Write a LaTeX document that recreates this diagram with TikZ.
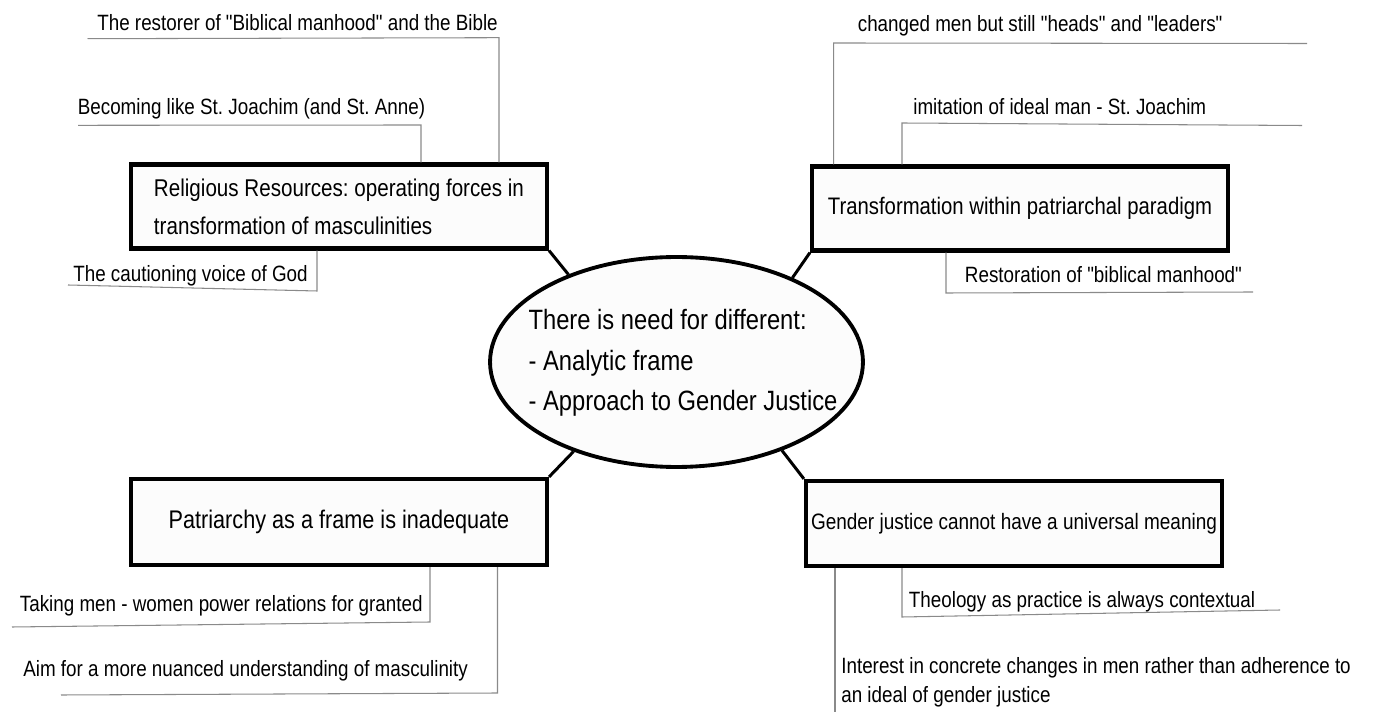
\documentclass[tikz,border=0pt]{standalone}
\usepackage{fontspec}
\setmainfont{Liberation Sans}[FakeStretch=0.85, Ligatures=TeXOff]
\usepackage{tikz}
\usetikzlibrary{positioning, shapes.geometric}
\definecolor{boxfill}{HTML}{FCFCFC}
\definecolor{leadgray}{HTML}{8A8A8A}
\tikzstyle{link} = [line width=1.7pt]
\tikzstyle{leader} = [draw=leadgray, line width=0.6pt]
\tikzstyle{topic} = [rectangle, draw=black, line width=2.4pt, fill=boxfill, minimum width=8.32cm, minimum height=1.68cm, inner sep=0pt, align=left]
\tikzstyle{hub} = [ellipse, draw=black, line width=2.2pt, fill=boxfill, minimum width=7.46cm, minimum height=4.2cm, inner sep=0pt]
\tikzstyle{note} = [inner sep=0pt, anchor=base west, align=left, font=\fontsize{12.6}{17}\selectfont]
\frenchspacing

\begin{document}
\frenchspacing
\begin{tikzpicture}[x=0.02cm, y=-0.02cm]
        \useasboundingbox (0,0) rectangle (1373,712);

        \node (need) [hub] at (676.5,362) {};
        \node (needtext) [align=left, inner sep=0pt, font=\fontsize{15.9}{23}\selectfont] at (683,363) {There is need for different:\\- Analytic frame\\- Approach to Gender Justice};

        \node (religion) [topic, font=\fontsize{13.8}{21.6}\selectfont] at (339,206.5) {Religious Resources: operating forces in\\transformation of masculinities};
        \node (paradigm) [topic, font=\fontsize{13.6}{16}\selectfont] at (1020,208.5) {Transformation within patriarchal paradigm};
        \node (patriarchy) [topic, minimum height=1.72cm, font=\fontsize{14.5}{17}\selectfont] at (339,522) {Patriarchy as a frame is inadequate};
        \node (justice) [topic, minimum height=1.7cm, font=\fontsize{12.7}{15}\selectfont] at (1014,523.5) {Gender justice cannot have a universal meaning};

        \draw [link] (religion.south east) -- (need.141);
        \draw [link] (paradigm.south west) -- (need.36);
        \draw [link] (patriarchy.north east) -- (need.221);
        \draw [link] (justice.north west) -- (need.320);

        \node (restorer) [note] at (97,31) {The restorer of "Biblical manhood" and the Bible};
        \node (becoming) [note] at (77.5,115) {Becoming like St. Joachim (and St. Anne)};
        \node (caution) [note] at (73,282) {The cautioning voice of God};
        \node (changed) [note] at (857.5,32) {changed men but still "heads" and "leaders"};
        \node (imitation) [note] at (913,115) {imitation of ideal man - St. Joachim};
        \node (restoration) [note] at (964.6,283) {Restoration of "biblical manhood"};
        \node (taking) [note] at (19.6,612) {Taking men - women power relations for granted};
        \node (aim) [note] at (23,677) {Aim for a more nuanced understanding of masculinity};
        \node (theology) [note] at (908.6,608) {Theology as practice is always contextual};
        \node (interest) [note] at (841,703) {Interest in concrete changes in men rather than adherence to\\an ideal of gender justice};

        \coordinate (restorerL) at (87.5,38.7);
        \coordinate (restorerR) at (499,37.7);
        \coordinate (becomingL) at (78,125.3);
        \coordinate (becomingR) at (421,125);
        \coordinate (cautionR) at (317,291);
        \coordinate (cautionL) at (68,285);
        \coordinate (changedL) at (833.7,43);
        \coordinate (changedR) at (1307,43.5);
        \coordinate (imitationL) at (902,123);
        \coordinate (imitationR) at (1302,125.5);
        \coordinate (restorationL) at (946,293);
        \coordinate (restorationR) at (1253,292);
        \coordinate (takingR) at (430,622);
        \coordinate (takingL) at (12,627);
        \coordinate (aimR) at (497.5,693);
        \coordinate (aimL) at (61,695);
        \coordinate (theologyL) at (902,617);
        \coordinate (theologyR) at (1280,610);
        \coordinate (interestend) at (835,712);

        \draw [leader] (restorerL) -- (restorerR) -- (restorerR |- religion.north);
        \draw [leader] (becomingL) -- (becomingR) -- (becomingR |- religion.north);
        \draw [leader] (cautionR |- religion.south) -- (cautionR) -- (cautionL);
        \draw [leader] (changedL |- paradigm.north) -- (changedL) -- (changedR);
        \draw [leader] (imitationL |- paradigm.north) -- (imitationL) -- (imitationR);
        \draw [leader] (restorationL |- paradigm.south) -- (restorationL) -- (restorationR);
        \draw [leader] (takingR |- patriarchy.south) -- (takingR) -- (takingL);
        \draw [leader] (aimR |- patriarchy.south) -- (aimR) -- (aimL);
        \draw [leader] (theologyL |- justice.south) -- (theologyL) -- (theologyR);
        \draw [leader] (interestend |- justice.south) -- (interestend);

        \end{tikzpicture}
\end{document}
